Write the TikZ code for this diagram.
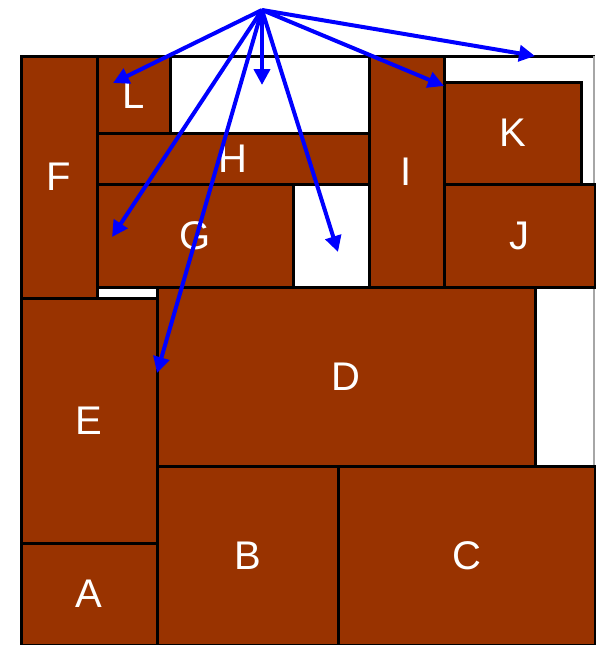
\documentclass[tikz,border=0pt]{standalone}
\usepackage{fontspec}
\setmainfont{Liberation Sans}
\usetikzlibrary{arrows.meta}
\definecolor{brick}{RGB}{153,51,0}
\tikzset{
  pack/.style={draw=black, line width=3pt, fill=brick, inner sep=0pt, outer sep=0pt,
    text=white, font=\fontsize{40}{40}\selectfont},
  ptr/.style={draw={rgb,255:red,0;green,0;blue,255}, line width=4pt,
    -{Triangle[length=16pt,width=16pt]}, shorten >=0pt}
}
\newcommand{\packbox}[6]{% name, x1,y1,x2,y2, label
  \node[pack, minimum width={#4-#2}, minimum height={#5-#3}] (#1) at ({(#2+#4)/2},{(#3+#5)/2}) {#6};}
\begin{document}
\begin{tikzpicture}[x=1pt,y=-1pt]
\useasboundingbox (0,0) rectangle (595,645);
\fill[white] (0,0) rectangle (595,645);
% container
\draw[line width=3pt, black] (21,645) -- (21,56) -- (595,56);
\draw[line width=2pt, gray!70] (594,56) -- (594,645);
% packed rectangles
\packbox{F}{21}{56}{97}{298}{F}
\packbox{L}{97}{56}{170}{133}{L}
\packbox{H}{97}{133}{369}{184}{H}
\packbox{G}{97}{184}{293}{287}{G}
\packbox{E}{21}{298}{157}{543}{E}
\packbox{A}{21}{543}{157}{645}{A}
\packbox{D}{157}{287}{535}{466}{D}
\packbox{B}{157}{466}{338}{645}{B}
\packbox{C}{338}{466}{595}{645}{C}
\packbox{I}{369}{56}{444}{287}{I}
\packbox{K}{444}{82}{581}{184}{K}
\packbox{J}{444}{184}{595}{287}{J}
% arrows
\coordinate (src) at (262,10);
\coordinate (t1) at (113,83);
\coordinate (t2) at (262,85);
\coordinate (t3) at (112,237);
\coordinate (t4) at (157,373);
\coordinate (t5) at (338,252);
\coordinate (t6) at (444,86);
\coordinate (t7) at (535,56);
\foreach \t in {t1,t2,t3,t4,t5,t6,t7} \draw[ptr] (src) -- (\t);
\end{tikzpicture}
\end{document}
